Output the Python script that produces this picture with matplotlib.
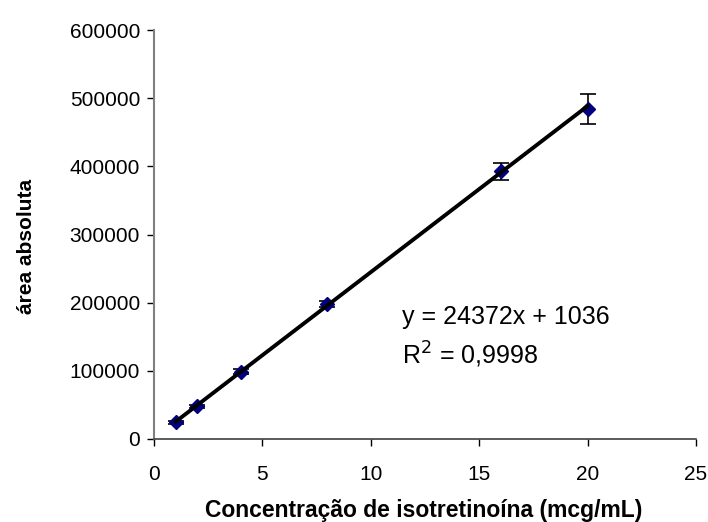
import matplotlib
matplotlib.use("Agg")
import matplotlib.pyplot as plt
import numpy as np

plt.rcParams['font.family'] = ['Liberation Sans', 'DejaVu Sans']

# Calibration data: isotretinoin concentration vs. absolute peak area
conc = [1, 2, 4, 8, 16, 20]
area = [24500, 48000, 99000, 198000, 393000, 484000]
area_err = [2000, 2500, 3000, 4000, 12500, 22500]

slope = 24372
intercept = 1036
r2_text = "0,9998"

x_ticks = [0, 5, 10, 15, 20, 25]
y_ticks = [0, 100000, 200000, 300000, 400000, 500000, 600000]

fig = plt.figure(figsize=(7.08, 5.22), dpi=100)
ax = fig.add_axes([154/708, 1 - 439/522, (696-154)/708, (439-30)/522])

ax.errorbar(conc, area, yerr=area_err, fmt='D', color='#000080',
            markersize=7, ecolor='black', elinewidth=1.2, capsize=6, capthick=1.2, zorder=3)

xf = np.array([min(conc), max(conc)])
ax.plot(xf, slope * xf + intercept, color='black', linewidth=2.8, zorder=4)

ax.set_xlim(0, 25)
ax.set_ylim(0, 600000)
ax.set_xticks(x_ticks)
ax.set_yticks(y_ticks)
ax.tick_params(axis='both', labelsize=15, direction='out', length=5, width=1, colors='black')
ax.tick_params(axis='y', pad=5)
ax.tick_params(axis='x', pad=14)
for s in ['top', 'right']:
    ax.spines[s].set_visible(False)
ax.spines['left'].set_color('#808080')
ax.spines['left'].set_linewidth(1.5)
ax.spines['bottom'].set_color('#404040')
ax.spines['bottom'].set_linewidth(1.2)

def px_to_data(px, py):
    return ((px - 154) / 542 * 25, (439 - py) / 409 * 600000)

ex, ey = px_to_data(402, 317)
rx, ry = px_to_data(402, 355)
ax.text(ex, ey, f"y = {slope}x + {intercept}", fontsize=18, va='center')
ax.text(rx, ry, f"R$^2$ = {r2_text}", fontsize=18, va='center')

fig.text(424/708, 1 - 510/522, "Concentração de isotretinoína (mcg/mL)",
         ha='center', va='center', fontsize=16.5, fontweight='bold')
fig.text(27/708, 1 - 246/522, "área absoluta", rotation=90,
         ha='center', va='center', fontsize=15, fontweight='bold')

fig.savefig("out.png", dpi=100)
